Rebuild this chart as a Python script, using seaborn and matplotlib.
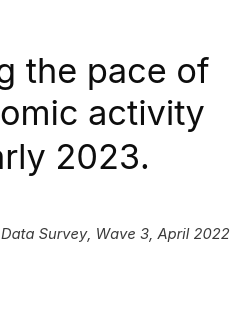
import matplotlib
matplotlib.use("Agg")
import matplotlib.pyplot as plt
import seaborn as sns

# visible (cropped) text lines of the chart header
title_lines = ["g the pace of", "omic activity", "arly 2023."]
title_baselines = [83, 125.5, 169]   # px from top
title_right = [209.5, 204.5, 149.5]  # px from left, right end of each line
subtitle = "Data Survey, Wave 3, April 2022"
subtitle_baseline = 238.5

W, H = 245, 319
DPI = 100

sns.set_theme(style="white")
plt.rcParams['font.family'] = ['Inter', 'DejaVu Sans']

fig = plt.figure(figsize=(W / DPI, H / DPI), dpi=DPI)
fig.patch.set_facecolor("white")
ax = fig.add_axes([0, 0, 1, 1])
ax.set_axis_off()

for line, yb, xr in zip(title_lines, title_baselines, title_right):
    fig.text(xr / W, 1 - yb / H, line, ha="right", va="baseline",
             fontsize=24.7, color="#0d0d0d")

fig.text(229.5 / W, 1 - subtitle_baseline / H, subtitle, ha="right", va="baseline",
         fontsize=10.6, style="italic", color="#3a3a3a")

fig.savefig("out.png", dpi=DPI, facecolor="white")
